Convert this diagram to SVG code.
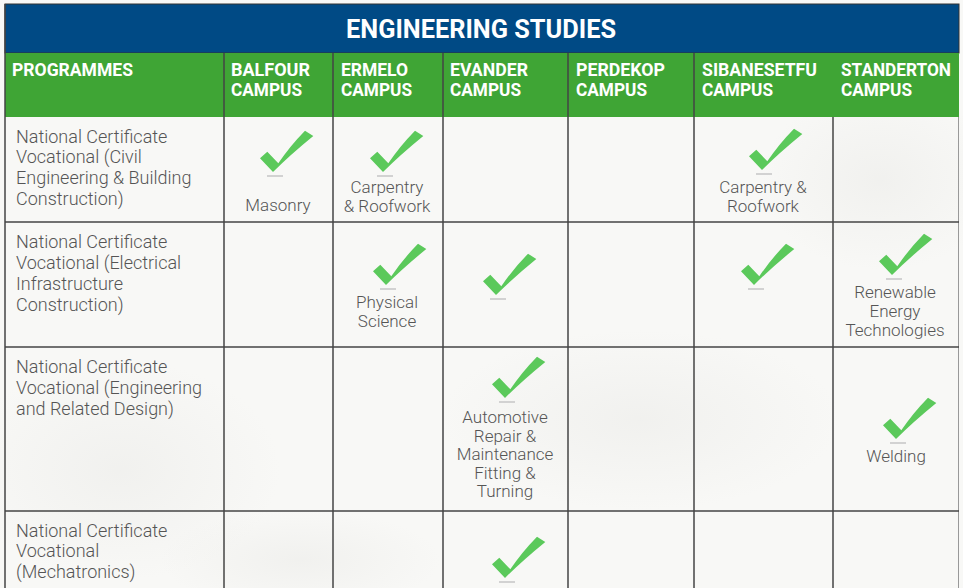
<svg xmlns="http://www.w3.org/2000/svg" width="963" height="588" viewBox="0 0 963 588">
<defs>
<style>
.hd{font-family:Roboto,"Liberation Sans",sans-serif;font-weight:700;fill:#fff;font-size:18px}
.ttl{font-family:Roboto,"Liberation Sans",sans-serif;font-weight:700;fill:#fff;font-size:26px}
.bd{font-family:Roboto,"Liberation Sans",sans-serif;font-weight:300;fill:#555;font-size:18px}
.cl{font-family:Roboto,"Liberation Sans",sans-serif;font-weight:300;fill:#555;font-size:17px;text-anchor:middle}
.grid{stroke:#444;stroke-width:1.5;fill:none}
</style>
<radialGradient id="blob" cx="0.5" cy="0.5" r="0.5">
<stop offset="0" stop-color="#e8e8e5" stop-opacity="0.45"/>
<stop offset="1" stop-color="#e8e8e5" stop-opacity="0"/>
</radialGradient>
<g id="chk">
<line x1="-6" y1="4" x2="10" y2="4" stroke="#d2d2d2" stroke-width="2"/>
<path d="M-13,-13.7 L-5.7,-20.3 L5.3,-8.7 Q17,-26 32,-41.3 L40.3,-36 Q17,-17 0,0 Z" fill="#5bc95b"/>
</g>
</defs>
<rect x="0" y="0" width="963" height="588" fill="#f8f8f6"/>
<ellipse cx="120" cy="470" rx="160" ry="110" fill="url(#blob)"/>
<ellipse cx="640" cy="420" rx="200" ry="90" fill="url(#blob)"/>
<ellipse cx="880" cy="180" rx="120" ry="90" fill="url(#blob)"/>
<ellipse cx="300" cy="560" rx="140" ry="50" fill="url(#blob)"/>

<g id="title">
<rect x="5" y="4" width="954" height="49" fill="#004a85" stroke="#333" stroke-width="1"/>
<text class="ttl" x="481" y="38" text-anchor="middle" textLength="270" lengthAdjust="spacingAndGlyphs">ENGINEERING STUDIES</text>
</g>
<g id="header">
<rect x="5" y="53" width="954" height="64" fill="#3fa535"/>
<text class="hd" x="12" y="76" textLength="121" lengthAdjust="spacingAndGlyphs">PROGRAMMES</text>
<text class="hd" x="231" y="76" textLength="79" lengthAdjust="spacingAndGlyphs">BALFOUR</text>
<text class="hd" x="231" y="96" textLength="71" lengthAdjust="spacingAndGlyphs">CAMPUS</text>
<text class="hd" x="341" y="76" textLength="67" lengthAdjust="spacingAndGlyphs">ERMELO</text>
<text class="hd" x="341" y="96" textLength="71" lengthAdjust="spacingAndGlyphs">CAMPUS</text>
<text class="hd" x="450" y="76" textLength="78" lengthAdjust="spacingAndGlyphs">EVANDER</text>
<text class="hd" x="450" y="96" textLength="71" lengthAdjust="spacingAndGlyphs">CAMPUS</text>
<text class="hd" x="576" y="76" textLength="89" lengthAdjust="spacingAndGlyphs">PERDEKOP</text>
<text class="hd" x="576" y="96" textLength="71" lengthAdjust="spacingAndGlyphs">CAMPUS</text>
<text class="hd" x="702" y="76" textLength="115" lengthAdjust="spacingAndGlyphs">SIBANESETFU</text>
<text class="hd" x="702" y="96" textLength="71" lengthAdjust="spacingAndGlyphs">CAMPUS</text>
<text class="hd" x="841" y="76" textLength="110" lengthAdjust="spacingAndGlyphs">STANDERTON</text>
<text class="hd" x="841" y="96" textLength="71" lengthAdjust="spacingAndGlyphs">CAMPUS</text>
</g>

<g id="grid">
<line class="grid" x1="5" y1="4" x2="5" y2="588"/>
<line class="grid" x1="224" y1="53" x2="224" y2="588"/>
<line class="grid" x1="333" y1="53" x2="333" y2="588"/>
<line class="grid" x1="443" y1="53" x2="443" y2="588"/>
<line class="grid" x1="568" y1="53" x2="568" y2="588"/>
<line class="grid" x1="694" y1="53" x2="694" y2="588"/>
<line class="grid" x1="833" y1="117" x2="833" y2="588"/>
<line x1="958.5" y1="117" x2="958.5" y2="588" stroke="#999" stroke-width="1"/>
<line class="grid" x1="5" y1="222" x2="959" y2="222"/>
<line class="grid" x1="5" y1="347" x2="959" y2="347"/>
<line class="grid" x1="5" y1="511" x2="959" y2="511"/>
</g>

<g id="row1">
<text class="bd" x="16" y="143">National Certificate</text>
<text class="bd" x="16" y="163">Vocational (Civil</text>
<text class="bd" x="16" y="184">Engineering &amp; Building</text>
<text class="bd" x="16" y="205">Construction)</text>
<use href="#chk" x="273" y="172"/>
<text class="cl" x="278" y="211">Masonry</text>
<use href="#chk" x="383" y="172"/>
<text class="cl" x="387" y="193">Carpentry</text>
<text class="cl" x="387" y="212">&amp; Roofwork</text>
<use href="#chk" x="762" y="170"/>
<text class="cl" x="763" y="193">Carpentry &amp;</text>
<text class="cl" x="763" y="212">Roofwork</text>
</g>

<g id="row2">
<text class="bd" x="16" y="248">National Certificate</text>
<text class="bd" x="16" y="269">Vocational (Electrical</text>
<text class="bd" x="16" y="290">Infrastructure</text>
<text class="bd" x="16" y="311">Construction)</text>
<use href="#chk" x="386" y="285"/>
<text class="cl" x="387" y="308">Physical</text>
<text class="cl" x="387" y="327">Science</text>
<use href="#chk" x="496" y="295"/>
<use href="#chk" x="754" y="285"/>
<use href="#chk" x="892" y="275"/>
<text class="cl" x="895" y="298">Renewable</text>
<text class="cl" x="895" y="317">Energy</text>
<text class="cl" x="895" y="336">Technologies</text>
</g>

<g id="row3">
<text class="bd" x="16" y="373">National Certificate</text>
<text class="bd" x="16" y="394">Vocational (Engineering</text>
<text class="bd" x="16" y="415">and Related Design)</text>
<use href="#chk" x="505" y="398"/>
<text class="cl" x="505" y="423">Automotive</text>
<text class="cl" x="505" y="442">Repair &amp;</text>
<text class="cl" x="505" y="460">Maintenance</text>
<text class="cl" x="505" y="479">Fitting &amp;</text>
<text class="cl" x="505" y="497">Turning</text>
<use href="#chk" x="896" y="439"/>
<text class="cl" x="896" y="462">Welding</text>
</g>

<g id="row4">
<text class="bd" x="16" y="537">National Certificate</text>
<text class="bd" x="16" y="557">Vocational</text>
<text class="bd" x="16" y="578">(Mechatronics)</text>
<use href="#chk" x="505" y="578"/>
</g>
</svg>
